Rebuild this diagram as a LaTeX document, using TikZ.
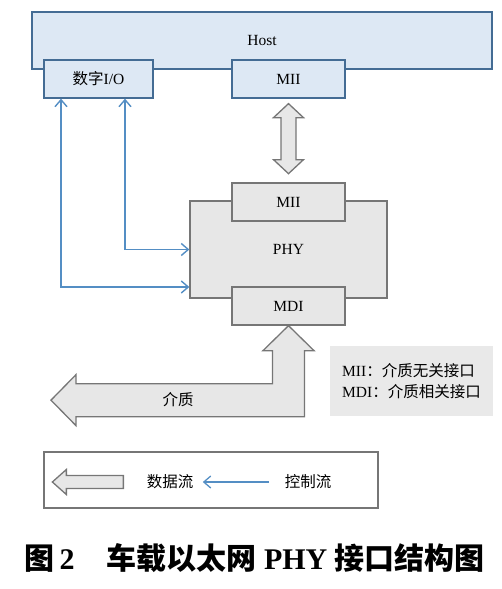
\documentclass[tikz,border=0pt]{standalone}
\usepackage{fontspec}
\setmainfont{Liberation Serif}
\newfontfamily\cjk{Noto Sans CJK SC}
\usetikzlibrary{calc}
\usetikzlibrary{arrows.meta}
\usetikzlibrary{positioning}
\definecolor{hostfill}{RGB}{221, 232, 244}
\definecolor{hostline}{RGB}{ 68, 108, 148}
\definecolor{phyfill}{RGB}{231, 231, 231}
\definecolor{phyline}{RGB}{118, 118, 118}
\definecolor{ctrlblue}{RGB}{ 84, 142, 196}
\definecolor{notefill}{RGB}{233, 233, 233}
\tikzset{
  txt/.style={font=\fontsize{15.5}{21}\selectfont},
  hostbox/.style={txt, draw=hostline, fill=hostfill, line width=1.3pt, inner sep=0pt},
  phybox/.style={txt, draw=phyline, fill=phyfill, line width=1.3pt, inner sep=0pt},
  ctrlflow/.style={ctrlblue, line width=1.4pt, {Straight Barb[length=7pt,width=12pt]}-{Straight Barb[length=7pt,width=12pt]}},
  dataflow/.style={draw=phyline, fill=phyfill, line width=1.3pt, line join=miter},
  caption/.style={anchor=base west, font=\fontsize{30}{34}\selectfont\bfseries}
}

\begin{document}
\begin{tikzpicture}[x=1pt, y=-1pt]
            \useasboundingbox (0,0) rectangle (501,589);
            \node[hostbox, minimum width=460pt, minimum height=57pt] (host) at (262.0, 40.5) {Host};
            \node[hostbox, minimum width=109pt, minimum height=38pt] (dio)  at ( 98.5, 79.0) {{\cjk 数字}I/O};
            \node[hostbox, minimum width=113pt, minimum height=38pt] (miih) at (288.5, 79.0) {MII};
            \node[phybox,  minimum width=197pt, minimum height=97pt] (phy)  at (288.5,249.5) {PHY};
            \node[phybox,  minimum width=113pt, minimum height=38pt] (miip) at (288.5,202.0) {MII};
            \node[phybox,  minimum width=113pt, minimum height=38pt] (mdi)  at (288.5,306.0) {MDI};
            \draw[ctrlflow] ([xshift= 26.5pt]dio.south) |- (phy.west);
            \draw[ctrlflow] ([xshift=-37.5pt]dio.south) |- ([yshift=-37.5pt]phy.west);
            \draw[dataflow] ($(miih.south)+(0,5)$) -- ++(15,14) -- ++(-7.5,0) -- ++(0,42) -- ++(7.5,0) -- ++(-15,14)
                 -- ++(-15,-14) -- ++(7.5,0) -- ++(0,-42) -- ++(-7.5,0) -- cycle;
            \draw[dataflow] (mdi.south) -- ++(25.5,25) -- ++(-9.5,0) -- ++(0,66) -- ++(-228.5,0) -- ++(0,9) -- ++(-25,-25.5)
                 -- ++(25,-25.5) -- ++(0,9) -- ++(196.5,0) -- ++(0,-33) -- ++(-9.5,0) -- cycle;
            \node[txt] (medium) at (178,400) {\cjk 介质};
            \node[txt, fill=notefill, minimum width=163pt, minimum height=70pt, align=left] (note) at (411.5,381)
                 {MII{\cjk ：介质无关接口}\\MDI{\cjk ：介质相关接口}};
            \node[draw=phyline, line width=1.3pt, minimum width=334pt, minimum height=56pt] (key) at (211,480) {};
            \draw[dataflow] ($(key.west)+(9,2)$) -- ++(14,-12.5) -- ++(0,6) -- ++(57,0) -- ++(0,13) -- ++(-57,0) -- ++(0,6) -- cycle;
            \node[txt] (datatxt) at (170,482) {\cjk 数据流};
            \node[txt] (ctrltxt) at (308,482) {\cjk 控制流};
            \draw[ctrlblue, line width=1.3pt, -{Straight Barb[length=7pt,width=12pt]}, shorten <=12pt, shorten >=6pt] (ctrltxt) -- (datatxt);
            \node[caption] (fignum) at ( 21,569) {{\cjk 图}\,2};
            \node[caption] (title)  at (103,569) {{\cjk 车载以太网} PHY {\cjk 接口结构图}};
\end{tikzpicture}
\end{document}
